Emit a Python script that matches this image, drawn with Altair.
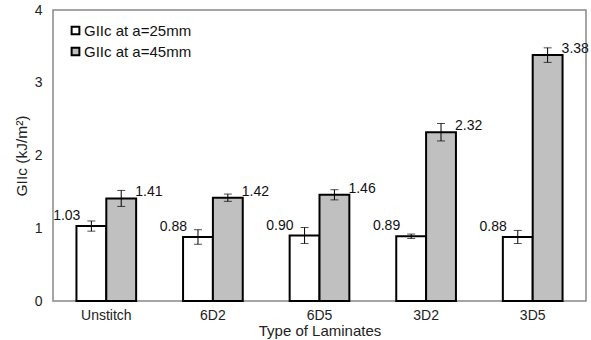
import altair as alt
import pandas as pd

# Laminate types and fracture toughness values (kJ/m^2)
laminates = ["Unstitch", "6D2", "6D5", "3D2", "3D5"]
series_names = ["GIIc at a=25mm", "GIIc at a=45mm"]
giic_25 = [1.03, 0.88, 0.90, 0.89, 0.88]
giic_45 = [1.41, 1.42, 1.46, 2.32, 3.38]
err_25 = [0.07, 0.10, 0.11, 0.03, 0.09]
err_45 = [0.11, 0.05, 0.07, 0.12, 0.10]
y_ticks = [0, 0.5, 1, 1.5, 2, 2.5, 3, 3.5, 4]

rows = []
for i, lam in enumerate(laminates):
    for name, vals, errs in ((series_names[0], giic_25, err_25), (series_names[1], giic_45, err_45)):
        rows.append({
            "laminate": lam,
            "series": name,
            "value": vals[i],
            "lo": vals[i] - errs[i],
            "hi": vals[i] + errs[i],
            "label": f"{vals[i]:.2f}",
        })
df = pd.DataFrame(rows)

FONT = "Liberation Sans"

x_enc = alt.X("laminate:N", sort=laminates,
              scale=alt.Scale(paddingInner=0.44, paddingOuter=0.22),
              axis=alt.Axis(title="Type of Laminates", labelAngle=0, ticks=False,
                            domain=False, labelFontSize=14, labelPadding=7,
                            titleFontSize=15, titlePadding=1, labelColor="#222",
                            titleColor="#222", labelFont=FONT, titleFont=FONT,
                            titleFontWeight="normal"))
xoff = alt.XOffset("series:N", sort=series_names, scale=alt.Scale(paddingInner=0, paddingOuter=0))
y_scale = alt.Scale(domain=[0, 4], nice=False)

base = alt.Chart(df)

bars = base.mark_bar(stroke="black", strokeWidth=2).encode(
    x=x_enc,
    xOffset=xoff,
    y=alt.Y("value:Q", scale=y_scale,
            axis=alt.Axis(title="GIIc (kJ/m²)", values=y_ticks, format="~g", ticks=False,
                          domain=False, grid=False, labelFontSize=14, labelPadding=11,
                          titleFontSize=15.5, titlePadding=5, labelColor="#222",
                          titleColor="#222", labelFont=FONT, titleFont=FONT,
                          titleFontWeight="normal")),
    fill=alt.Fill("series:N", sort=series_names,
                  scale=alt.Scale(domain=series_names, range=["#ffffff", "#c0c0c0"]),
                  legend=alt.Legend(title=None, orient="none", legendX=15, legendY=13,
                                    symbolType="square", symbolSize=60,
                                    symbolStrokeColor="black", symbolStrokeWidth=2,
                                    labelFontSize=15, labelFont=FONT, labelColor="#111",
                                    rowPadding=4, labelOffset=1)),
)

rules = base.mark_rule(color="black", strokeWidth=1).encode(
    x=alt.X("laminate:N", sort=laminates), xOffset=xoff,
    y=alt.Y("lo:Q", scale=y_scale), y2="hi:Q",
)
caps_lo = base.mark_tick(color="black", size=8, thickness=1).encode(
    x=alt.X("laminate:N", sort=laminates), xOffset=xoff,
    y=alt.Y("lo:Q", scale=y_scale),
)
caps_hi = base.mark_tick(color="black", size=8, thickness=1).encode(
    x=alt.X("laminate:N", sort=laminates), xOffset=xoff,
    y=alt.Y("hi:Q", scale=y_scale),
)

labels_25 = base.transform_filter(alt.datum.series == series_names[0]).mark_text(
    align="right", baseline="middle", dx=-11, dy=-10, fontSize=14, font=FONT, color="#111"
).encode(
    x=alt.X("laminate:N", sort=laminates), xOffset=xoff,
    y=alt.Y("value:Q", scale=y_scale), text="label:N",
)
labels_45 = base.transform_filter(alt.datum.series == series_names[1]).mark_text(
    align="left", baseline="middle", dx=14, dy=-6, fontSize=14, font=FONT, color="#111"
).encode(
    x=alt.X("laminate:N", sort=laminates), xOffset=xoff,
    y=alt.Y("value:Q", scale=y_scale), text="label:N",
)

chart = alt.layer(bars, rules, caps_lo, caps_hi, labels_25, labels_45).properties(
    width=533, height=291,
    autosize=alt.AutoSizeParams(type="none"),
    padding={"left": 53, "top": 10, "right": 5, "bottom": 39},
    background="white",
).configure_view(stroke="#888", strokeWidth=1.5)

chart.save("out.html", embed_options={"renderer": "svg", "actions": False})
